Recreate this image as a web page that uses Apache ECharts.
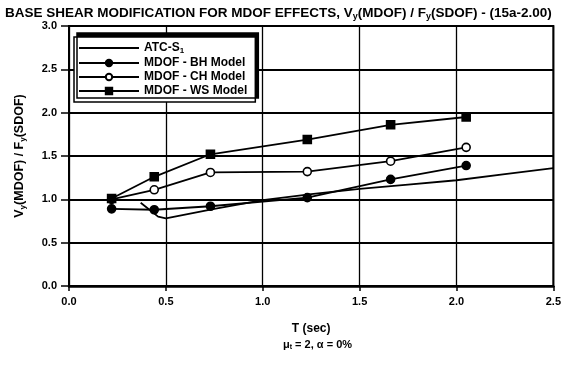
<!DOCTYPE html>
<html>
<head>
<meta charset="utf-8">
<script src="https://cdn.jsdelivr.net/npm/echarts@6/dist/echarts.min.js"></script>
<style>
  html, body { margin: 0; padding: 0; background: #fff; }
  #chart { width: 564px; height: 369px; }
</style>
</head>
<body>
<div id="chart"></div>
<script>
// Period T (sec) and base shear ratio V_y(MDOF)/F_y(SDOF) for each model
const atcT   = [0.37, 0.46, 0.50, 0.75, 1.00, 1.25, 1.50, 1.75, 2.00, 2.25, 2.50];
const atcV   = [0.96, 0.80, 0.78, 0.89, 0.99, 1.06, 1.12, 1.17, 1.22, 1.29, 1.36];
const modelT = [0.22, 0.44, 0.73, 1.23, 1.66, 2.05];
const bhV    = [0.89, 0.88, 0.92, 1.02, 1.23, 1.39];
const chV    = [1.00, 1.11, 1.31, 1.32, 1.44, 1.60];
const wsV    = [1.01, 1.26, 1.52, 1.69, 1.86, 1.95];
const xTicks = [0.0, 0.5, 1.0, 1.5, 2.0, 2.5];
const yTicks = [0.0, 0.5, 1.0, 1.5, 2.0, 2.5, 3.0];

const pairs = (xs, ys) => xs.map((x, i) => [x, ys[i]]);
const FONT = 'Liberation Sans';
const ink = '#000';

const chart = echarts.init(document.getElementById('chart'), null, { renderer: 'canvas' });

const lineSeries = (name, data, symbol, filled) => ({
  name, type: 'line', data,
  symbol, symbolSize: 8,
  showSymbol: symbol !== 'none',
  lineStyle: { color: ink, width: 1.8 },
  itemStyle: { color: filled ? ink : '#fff', borderColor: ink, borderWidth: 1.6 },
  emphasis: { disabled: true },
  z: 5
});

const legendNames = {
  'ATC-S1': '{b|ATC-S}{s|1}',
  'MDOF - BH Model': '{b|MDOF - BH Model}',
  'MDOF - CH Model': '{b|MDOF - CH Model}',
  'MDOF - WS Model': '{b|MDOF - WS Model}'
};

chart.setOption({
  animation: false,
  backgroundColor: '#fff',
  title: {
    text: '{t|BASE SHEAR MODIFICATION FOR MDOF EFFECTS, V}{s|y}{t|(MDOF) / F}{s|y}{t|(SDOF) - (15a-2.00)}',
    left: 0, top: 0,
    textStyle: {
      rich: {
        t: { fontFamily: FONT, fontWeight: 'bold', fontSize: 13.5, color: ink },
        s: { fontFamily: FONT, fontWeight: 'bold', fontSize: 9, color: ink, verticalAlign: 'bottom', padding: [7, 0, 0, 0] }
      }
    }
  },
  grid: { left: 69, right: 10, top: 26, bottom: 83, show: true, borderColor: ink, borderWidth: 2 },
  legend: {
    orient: 'vertical',
    left: 74, top: 37,
    itemWidth: 60, itemHeight: 8, itemGap: 2,
    padding: [5, 8, 5, 4],
    backgroundColor: '#fff',
    borderColor: ink, borderWidth: 1.5, borderRadius: 0,
    shadowColor: ink, shadowBlur: 0, shadowOffsetX: 3, shadowOffsetY: -4,
    data: [
      { name: 'ATC-S1', itemStyle: { color: 'rgba(0,0,0,0)', borderWidth: 0 } },
      'MDOF - BH Model', 'MDOF - CH Model', 'MDOF - WS Model'
    ],
    formatter: n => legendNames[n],
    textStyle: {
      rich: {
        b: { fontFamily: FONT, fontWeight: 'bold', fontSize: 12, color: ink },
        s: { fontFamily: FONT, fontWeight: 'bold', fontSize: 8, color: ink, verticalAlign: 'bottom', padding: [6, 0, 0, 0] }
      }
    }
  },
  xAxis: {
    type: 'value', min: 0, max: 2.5, interval: 0.5,
    name: 'T (sec)', nameLocation: 'middle', nameGap: 37,
    nameTextStyle: { fontFamily: FONT, fontWeight: 'bold', fontSize: 12, color: ink },
    axisLine: { show: true, lineStyle: { color: ink, width: 2.5 } },
    axisTick: { show: true, length: 5, lineStyle: { color: ink, width: 1.5 } },
    axisLabel: {
      margin: 10, fontFamily: FONT, fontWeight: 'bold', fontSize: 11, color: ink,
      formatter: v => xTicks.find(t => Math.abs(t - v) < 1e-9).toFixed(1)
    },
    splitLine: { show: true, lineStyle: { color: ink, width: 1.3 } }
  },
  yAxis: {
    type: 'value', min: 0, max: 3, interval: 0.5,
    name: '{b|V}{s|y}{b|(MDOF) / F}{s|y}{b|(SDOF)}',
    nameLocation: 'middle', nameGap: 42, nameRotate: 90,
    nameTextStyle: {
      rich: {
        b: { fontFamily: FONT, fontWeight: 'bold', fontSize: 12.5, color: ink },
        s: { fontFamily: FONT, fontWeight: 'bold', fontSize: 8, color: ink, verticalAlign: 'bottom', padding: [6, 0, 0, 0] }
      }
    },
    axisLine: { show: true, lineStyle: { color: ink, width: 2 } },
    axisTick: { show: true, length: 8, lineStyle: { color: ink, width: 1.5 } },
    axisLabel: {
      margin: 12, fontFamily: FONT, fontWeight: 'bold', fontSize: 11, color: ink,
      formatter: v => yTicks.find(t => Math.abs(t - v) < 1e-9).toFixed(1)
    },
    splitLine: { show: true, lineStyle: { color: ink, width: 2 } }
  },
  graphic: [{
    type: 'text', left: 283, top: 339,
    style: {
      text: '{b|μ}{s|t}{b| = 2, α = 0%}',
      rich: {
        b: { fontFamily: FONT, fontWeight: 'bold', fontSize: 11, fill: ink },
        s: { fontFamily: FONT, fontWeight: 'bold', fontSize: 7, fill: ink, verticalAlign: 'bottom', padding: [5, 0, 0, 0] }
      }
    }
  }],
  series: [
    lineSeries('ATC-S1', pairs(atcT, atcV), 'none', true),
    lineSeries('MDOF - BH Model', pairs(modelT, bhV), 'circle', true),
    lineSeries('MDOF - CH Model', pairs(modelT, chV), 'circle', false),
    lineSeries('MDOF - WS Model', pairs(modelT, wsV), 'rect', true)
  ]
});
</script>
</body>
</html>
